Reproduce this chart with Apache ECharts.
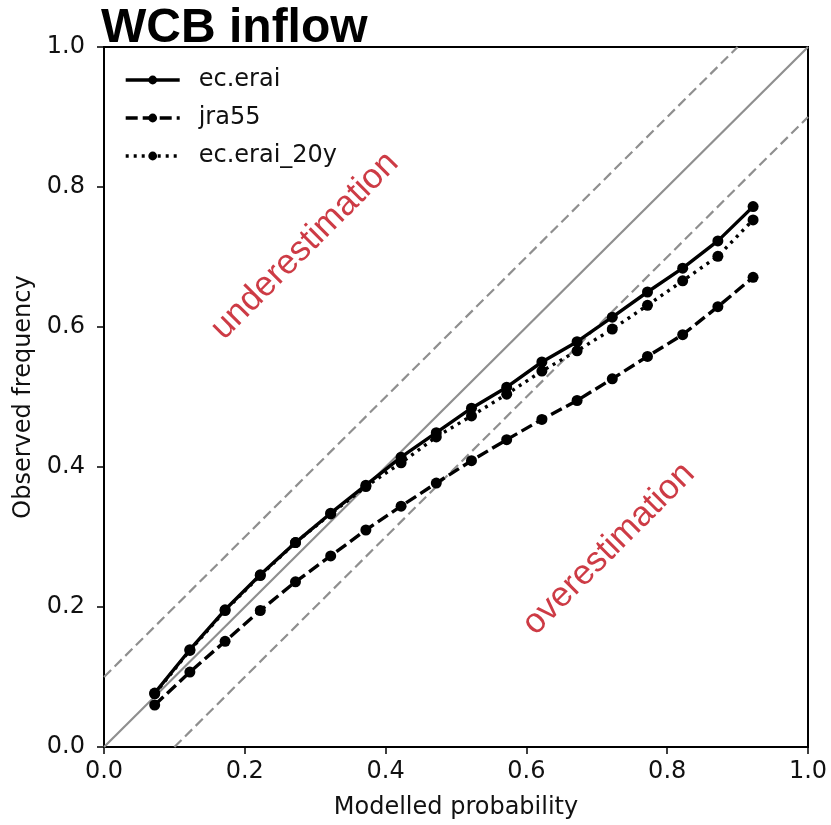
<!DOCTYPE html>
<html>
<head>
<meta charset="utf-8">
<script src="https://cdn.jsdelivr.net/npm/echarts@6/dist/echarts.min.js"></script>
<style>html,body{margin:0;padding:0;background:#fff;}#c{width:831px;height:825px;}</style>
</head>
<body>
<div id="c"></div>
<script>
const xProb = [0.072,0.122,0.172,0.222,0.272,0.322,0.372,0.422,0.472,0.522,0.572,0.622,0.672,0.722,0.772,0.822,0.872,0.922];
const ecErai = [0.077,0.139,0.196,0.246,0.292,0.334,0.374,0.414,0.449,0.484,0.514,0.550,0.579,0.614,0.650,0.684,0.723,0.772];
const jra55 = [0.060,0.107,0.151,0.195,0.236,0.273,0.310,0.344,0.377,0.409,0.439,0.468,0.495,0.526,0.558,0.589,0.629,0.671];
const ecErai20y = [0.076,0.138,0.195,0.245,0.292,0.333,0.372,0.406,0.443,0.473,0.504,0.537,0.566,0.597,0.631,0.666,0.701,0.753];
const seriesNames = ['ec.erai','jra55','ec.erai_20y'];
const diagLine = [[0,0],[1,1]];
const upperLine = [[0,0.1],[0.9,1]];
const lowerLine = [[0.1,0],[1,0.9]];
const annotations = [{name:'underestimation', x:0.2855, y:0.716},{name:'overestimation', x:0.717, y:0.283}];
const tickLabels = ['0.0','0.2','0.4','0.6','0.8','1.0'];

const pair = (xs, ys) => xs.map((x,i)=>[x, ys[i]]);
const chart = echarts.init(document.getElementById('c'), null, {renderer:'canvas'});
const tickFont = {fontFamily:'DejaVu Sans', fontSize:24, color:'#111'};
const mkSeries = (name, ys, type) => ({
  name, type:'line', data: pair(xProb, ys), symbol:'circle', symbolSize:11,
  itemStyle:{color:'#000'}, lineStyle:{color:'#000', width:3.4, type}, z:5, animation:false
});
const refLine = (data, type) => ({type:'line', data, symbol:'none', silent:true, lineStyle:{color:'#8f8f8f', width:2.2, type}, z:2, animation:false});
chart.setOption({
  animation:false,
  title:{text:'WCB inflow', left:96, top:0, textStyle:{fontFamily:'Liberation Sans', fontWeight:'bold', fontSize:48, color:'#000'}},
  grid:{left:104, top:47, width:704, height:700, show:true, borderColor:'#000', borderWidth:2, backgroundColor:'transparent'},
  legend:{data:seriesNames, left:124, top:67, orient:'vertical', itemWidth:54, itemHeight:11, itemGap:12, padding:0,
    lineStyle:{width:3.4},
    textStyle:{fontFamily:'DejaVu Sans', fontSize:24, color:'#111', padding:[0,0,0,14], lineHeight:26}},
  xAxis:{type:'value', min:0, max:1, interval:0.2, name:'Modelled probability', nameLocation:'middle', nameGap:49,
    nameTextStyle:{fontFamily:'DejaVu Sans', fontSize:24, color:'#111'},
    axisLine:{lineStyle:{color:'#000', width:2}}, axisTick:{length:7, lineStyle:{color:'#000', width:1.5}},
    axisLabel:Object.assign({margin:13, formatter:(v)=>tickLabels[Math.round(v*5)]}, tickFont), splitLine:{show:false}},
  yAxis:{type:'value', min:0, max:1, interval:0.2, name:'Observed frequency', nameLocation:'middle', nameGap:65,
    nameTextStyle:{fontFamily:'DejaVu Sans', fontSize:24, color:'#111'},
    axisLine:{show:true, lineStyle:{color:'#000', width:2}}, axisTick:{show:true, length:7, lineStyle:{color:'#000', width:1.5}},
    axisLabel:Object.assign({margin:19, formatter:(v)=>tickLabels[Math.round(v*5)]}, tickFont), splitLine:{show:false}},
  series:[
    refLine(diagLine,'solid'), refLine(upperLine,[10,5]), refLine(lowerLine,[10,5]),
    mkSeries(seriesNames[0], ecErai, 'solid'),
    mkSeries(seriesNames[1], jra55, [12,5]),
    mkSeries(seriesNames[2], ecErai20y, [3,5]),
    {type:'scatter', silent:true, symbolSize:0, z:3, data: annotations.map(a=>({name:a.name, value:[a.x,a.y]})),
      label:{show:true, position:'inside', rotate:45, formatter:(p)=>p.name, fontFamily:'Liberation Sans', fontSize:35, color:'#c00a16'}}
  ]
});
</script>
</body>
</html>
